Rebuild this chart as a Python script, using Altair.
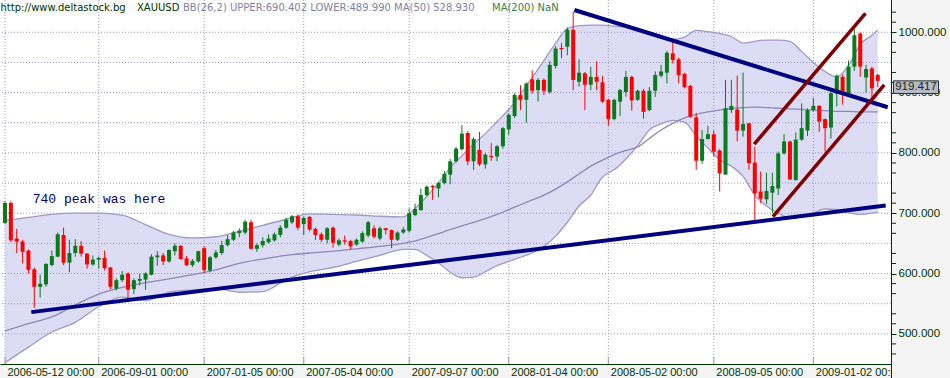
import json
import altair as alt
import pandas as pd

# ---------------- data (weekly XAUUSD candles) ----------------
opens = [684, 717, 658, 653, 638, 607, 578, 582, 614, 628,
         664, 618, 634, 646, 633, 615, 623, 626, 610, 575,
         589, 600, 574, 588, 590, 598, 627, 630, 620, 637,
         646, 625, 614, 620, 642, 605, 627, 634, 647, 656,
         667, 668, 685, 641, 647, 652, 655, 664, 676, 685,
         695, 682, 694, 674, 665, 656, 676, 648, 655, 654,
         648, 653, 663, 675, 658, 675, 672, 656, 668, 671,
         697, 705, 730, 745, 741, 750, 764, 786, 806, 833,
         786, 805, 781, 795, 794, 811, 839, 861, 896, 888,
         922, 904, 921, 901, 944, 974, 976, 1004, 918, 932,
         913, 926, 917, 888, 856, 885, 901, 926, 888, 903,
         871, 903, 928, 933, 965, 955, 931, 911, 859, 787,
         823, 831, 804, 764, 871, 872, 837, 849, 784, 736,
         723, 734, 741, 799, 819, 755, 822, 837, 871, 878,
         856, 842, 898, 926, 898, 943, 998, 925, 940, 929]
closes = [717, 655, 653, 636, 606, 578, 583, 616, 629, 665,
          618, 634, 646, 633, 615, 623, 626, 609, 578, 589,
          598, 573, 589, 591, 600, 628, 630, 620, 639, 646,
          624, 614, 621, 637, 606, 627, 635, 647, 657, 668,
          671, 686, 641, 647, 654, 658, 665, 676, 689, 695,
          676, 692, 673, 664, 656, 675, 651, 655, 653, 645,
          656, 667, 685, 661, 675, 672, 656, 668, 673, 700,
          707, 730, 744, 743, 750, 765, 786, 807, 832, 786,
          823, 781, 797, 793, 811, 841, 863, 896, 888, 915,
          903, 921, 903, 946, 973, 972, 1004, 921, 933, 913,
          926, 918, 885, 856, 888, 904, 926, 887, 903, 868,
          903, 929, 935, 966, 954, 929, 909, 860, 787, 823,
          831, 802, 766, 874, 878, 837, 848, 783, 733, 724,
          737, 745, 799, 819, 756, 822, 841, 871, 878, 852,
          841, 899, 928, 898, 943, 995, 943, 939, 907, 919.417]
highs = [720, 720, 674, 656, 640, 610, 598, 617, 638, 668,
         676, 656, 657, 654, 634, 630, 628, 638, 611, 592,
         604, 602, 592, 600, 602, 632, 637, 634, 640, 650,
         647, 629, 624, 638, 645, 629, 639, 654, 664, 671,
         675, 689, 689, 650, 660, 665, 668, 680, 692, 697,
         698, 694, 695, 676, 668, 677, 678, 658, 663, 656,
         658, 670, 687, 680, 678, 676, 673, 670, 677, 708,
         716, 741, 746, 747, 752, 770, 790, 810, 846, 836,
         826, 835, 800, 816, 813, 843, 866, 899, 912, 917,
         937, 924, 924, 952, 977, 982, 1008, 1034, 955, 934,
         943, 952, 928, 890, 890, 906, 936, 928, 905, 906,
         909, 935, 946, 969, 984, 958, 933, 913, 866, 838,
         845, 837, 806, 921, 921, 928, 933, 850, 810, 769,
         767, 767, 802, 831, 820, 834, 882, 874, 891, 879,
         857, 902, 930, 930, 953, 1005, 1000, 946, 943, 931]
lows = [682, 652, 634, 617, 600, 543, 560, 578, 612, 627,
        614, 602, 628, 628, 608, 613, 608, 605, 574, 572,
        586, 558, 566, 580, 573, 597, 613, 614, 618, 630,
        623, 612, 611, 618, 601, 602, 624, 631, 645, 654,
        660, 665, 640, 636, 643, 650, 653, 660, 674, 682,
        672, 664, 670, 656, 652, 650, 643, 645, 648, 640,
        646, 651, 660, 658, 655, 665, 642, 654, 666, 668,
        695, 704, 728, 722, 726, 748, 748, 784, 804, 780,
        772, 778, 774, 787, 786, 807, 830, 858, 871, 850,
        898, 885, 896, 898, 940, 957, 962, 904, 910, 871,
        904, 904, 883, 845, 854, 861, 893, 870, 886, 857,
        869, 893, 925, 915, 948, 916, 907, 858, 772, 782,
        822, 794, 736, 764, 866, 819, 827, 772, 682, 717,
        715, 700, 730, 797, 755, 754, 820, 828, 868, 835,
        802, 824, 877, 880, 893, 936, 926, 900, 891, 909]

# Bollinger band BB(26,2) and moving average, read at sampled weeks
band_idx = [0, 4, 8, 12, 16, 20, 24, 28, 32, 36, 40, 44, 48, 52, 56, 60, 64, 68,
            70, 72, 74, 76, 78, 80, 82, 84, 86, 88, 90, 92, 94, 96, 98, 100,
            102, 104, 106, 108, 110, 112, 114, 116, 118, 120, 122, 124, 126, 128,
            130, 132, 134, 136, 138, 140, 142, 144, 146, 148, 149]
band_upper = [688, 693, 698, 700, 700, 697, 681, 665, 659, 661, 670, 680, 690, 699, 698, 697, 695, 694,
              708, 728, 750, 776, 795, 815, 832, 852, 872, 897, 925, 953, 982, 1006, 1011, 1012,
              1012, 1010, 1009, 1006, 1000, 992, 988, 992, 1003, 1001, 998, 993, 982, 985,
              987, 987, 985, 968, 950, 935, 926, 945, 980, 995, 1004]
band_lower = [452, 478, 503, 519, 545, 561, 555, 569, 573, 575, 569, 570, 590, 603, 610, 620, 630, 640,
              640, 630, 618, 602, 593, 594, 603, 613, 620, 627, 634, 645, 662, 685, 712, 730,
              760, 772, 790, 812, 838, 848, 854, 851, 828, 808, 789, 778, 761, 730,
              712, 700, 692, 694, 700, 707, 706, 701, 698, 700, 702]
ma_values = [505, 517, 528, 548, 566, 577, 585, 591, 598, 606, 617, 624, 630, 634, 637, 641, 645, 650,
             654, 660, 666, 673, 679, 685, 691, 698, 706, 714, 722, 730, 740, 752, 765, 778,
             788, 797, 804, 810, 824, 838, 849, 858, 864, 868, 871, 874, 875, 876,
             875, 874, 873, 872, 871, 870, 869, 869, 868, 868, 868]

# x-axis ticks (week index) and their labels
tick_idx = [0, 16, 34, 51, 69, 86, 103, 121, 138]
tick_labels = ["2006-05-12 00:00", "2006-09-01 00:00", "2007-01-05 00:00",
               "2007-05-04 00:00", "2007-09-07 00:00", "2008-01-04 00:00",
               "2008-05-02 00:00", "2008-09-05 00:00", "2009-01-02 00:00"]
price_grid = [500, 550, 600, 650, 700, 750, 800, 850, 900, 950, 1000]
y_minor_ticks = [466.667, 483.333, 516.667, 533.333, 566.667, 583.333,
                 616.667, 633.333, 666.667, 683.333, 716.667, 733.333,
                 766.667, 783.333, 816.667, 833.333, 866.667, 883.333,
                 916.667, 933.333, 966.667, 983.333, 1016.667, 1033.333]

# hand-drawn trend lines (start week, start price, end week, end price)
trend_x1 = [4.5, 97.2, 127.9, 131.1]
trend_y1 = [536.0, 1036.9, 814.4, 694.4]
trend_x2 = [150.35, 150.7, 146.9, 150.1]
trend_y2 = [712.7, 875.7, 1031.5, 912.7]
trend_kind = ["blue", "blue", "red", "red"]

last_price = 919.417
note_text = "740 peak was here"

# ---------------- frames ----------------
candles = pd.DataFrame({
    "idx": list(range(len(opens))),
    "open": opens, "high": highs, "low": lows, "close": closes,
})
candles["dir"] = ["up" if c >= o else "down" for o, c in zip(opens, closes)]
band = pd.DataFrame({"idx": band_idx, "upper": band_upper, "lower": band_lower, "ma": ma_values})
trend = pd.DataFrame({"x1": trend_x1, "y1": trend_y1, "x2": trend_x2, "y2": trend_y2, "kind": trend_kind})
grid_h = pd.DataFrame({"p": price_grid})
minor_df = pd.DataFrame({"p": y_minor_ticks})
grid_v = pd.DataFrame({"idx": tick_idx})
price_df = pd.DataFrame({"price": [last_price]})
note_df = pd.DataFrame({"t": [note_text], "i": [4.73], "p": [717.0]})

W, H = 891, 364
LABEL_FONT = "Liberation Sans"
AXIS_GREEN = "#003300"
GRID = "#9a96c6"

X = alt.Scale(domain=[0, 150.4], nice=False, zero=False)
Y = alt.Scale(domain=[450, 1053.5], nice=False, zero=False)

label_expr = "{}[indexof({}, datum.value)]".format(json.dumps(tick_labels), json.dumps(tick_idx))
x_axis = alt.Axis(values=tick_idx, labelExpr=label_expr, title=None, grid=False, tickSize=0,
                  domainColor=AXIS_GREEN, domainWidth=1, labelColor=AXIS_GREEN, labelFont=LABEL_FONT,
                  labelFontSize=11, labelAlign="left", labelBaseline="top", labelPadding=2.5,
                  labelOffset=2, labelOverlap=False, labelFlush=False, zindex=0)
y_axis = alt.Axis(orient="right", values=price_grid, format=".3f",
                  title=None, grid=False, tickSize=5, tickColor=AXIS_GREEN, domainColor=AXIS_GREEN,
                  labelColor=AXIS_GREEN, labelFont=LABEL_FONT, labelFontSize=11.5, labelPadding=2,
                  labelBaseline="middle", labelOverlap=False, labelFlush=False, zindex=0)

col = alt.Color("dir:N", scale=alt.Scale(domain=["up", "down"], range=["#0b7a1f", "#ff0000"]), legend=None)


def XQ(field):
    return alt.X(field, scale=X, axis=x_axis)


def YQ(field):
    return alt.Y(field, scale=Y, axis=y_axis)


band_area = alt.Chart(band).mark_area(color="#dcdcf4", interpolate="monotone", clip=True).encode(
    x=XQ("idx:Q"), y=YQ("upper:Q"), y2="lower:Q")
band_up = alt.Chart(band).mark_line(color="#9d9ac4", strokeWidth=1.3, interpolate="monotone", clip=True).encode(
    x=XQ("idx:Q"), y=YQ("upper:Q"))
band_lo = alt.Chart(band).mark_line(color="#9d9ac4", strokeWidth=1.3, interpolate="monotone", clip=True).encode(
    x=XQ("idx:Q"), y=YQ("lower:Q"))
ma_line = alt.Chart(band).mark_line(color="#8c89b6", strokeWidth=1.3, interpolate="monotone", clip=True).encode(
    x=XQ("idx:Q"), y=YQ("ma:Q"))

hgrid = alt.Chart(grid_h).mark_rule(color=GRID, strokeWidth=1, strokeDash=[1, 2]).encode(y=YQ("p:Q"))
vgrid = alt.Chart(grid_v).mark_rule(color=GRID, strokeWidth=1, strokeDash=[1, 2]).encode(x=XQ("idx:Q"))
vticks = alt.Chart(grid_v).mark_rule(color=GRID, strokeWidth=1).encode(
    x=XQ("idx:Q"), y=alt.value(H - 7), y2=alt.value(H))
minor_ticks = alt.Chart(minor_df).mark_rule(color=AXIS_GREEN, strokeWidth=1).encode(
    y=YQ("p:Q"), x=alt.value(W), x2=alt.value(W + 5))

wicks = alt.Chart(candles).mark_rule(strokeWidth=1, clip=True).encode(
    x=XQ("idx:Q"), y=YQ("low:Q"), y2="high:Q", color=col)
bodies = alt.Chart(candles).mark_bar(size=4, clip=True).encode(
    x=XQ("idx:Q"), y=YQ("open:Q"), y2="close:Q", color=col)

blue_lines = alt.Chart(trend).transform_filter("datum.kind == 'blue'").mark_rule(
    color="#000080", strokeWidth=4, clip=True).encode(
    x=XQ("x1:Q"), y=YQ("y1:Q"), x2="x2:Q", y2="y2:Q")
red_lines = alt.Chart(trend).transform_filter("datum.kind == 'red'").mark_rule(
    color="#800000", strokeWidth=3.5, clip=True).encode(
    x=XQ("x1:Q"), y=YQ("y1:Q"), x2="x2:Q", y2="y2:Q")

note = alt.Chart(note_df).mark_text(align="left", baseline="alphabetic", font="Liberation Mono",
                                    fontSize=13, color="#000080").encode(
    x=XQ("i:Q"), y=YQ("p:Q"), text="t:N")


def header(txt, px, color):
    return alt.Chart(price_df).mark_text(align="left", baseline="alphabetic", font="DejaVu Sans",
                                         fontSize=10, color=color).encode(
        x=alt.value(px), y=alt.value(11), text=alt.value(txt))


h1 = header("http://www.deltastock.bg", 0.5, "#003300")
h2 = header("XAUUSD", 137, "#003300")
h3 = header("BB(26,2) UPPER:690.402 LOWER:489.990 MA(50) 528.930", 183, "#8080b0")
h4 = header("MA(200) NaN", 492, "#3a7d48")

corner = alt.Chart(price_df).mark_rect(fill="#f4f4f4").encode(
    x=alt.value(W + 1), x2=alt.value(950), y=alt.value(H + 1), y2=alt.value(378))
right_line = alt.Chart(price_df).mark_rule(color=AXIS_GREEN, strokeWidth=1).encode(
    x=alt.value(W + 0.5), y=alt.value(0), y2=alt.value(378))

price_box = alt.Chart(price_df).mark_rect(fill="#b9bcc8", stroke="#303030", strokeWidth=1).encode(
    x=alt.value(893.5), x2=alt.value(938.5), y=alt.datum(last_price), y2=alt.datum(last_price - 20.9))
price_txt = alt.Chart(price_df).mark_text(align="center", baseline="middle", dy=6.5, font=LABEL_FONT,
                                          fontSize=11.5, color="#102a10").encode(
    x=alt.value(916), y=YQ("price:Q"), text=alt.Text("price:Q", format=".3f"))

chart = alt.layer(
    band_area, hgrid, vgrid, vticks, band_up, band_lo, ma_line,
    wicks, bodies, blue_lines, red_lines, note, h1, h2, h3, h4,
    corner, right_line, minor_ticks, price_box, price_txt,
).properties(
    width=W, height=H,
    padding={"left": 0, "top": 0, "right": 950 - W, "bottom": 378 - H},
    autosize=alt.AutoSizeParams(type="none"),
    background="#f4f4f4",
).configure_view(fill="white", strokeWidth=0).configure_axis(labelOverlap=False)

chart.save("out.html", embed_options={"renderer": "svg", "actions": False})
